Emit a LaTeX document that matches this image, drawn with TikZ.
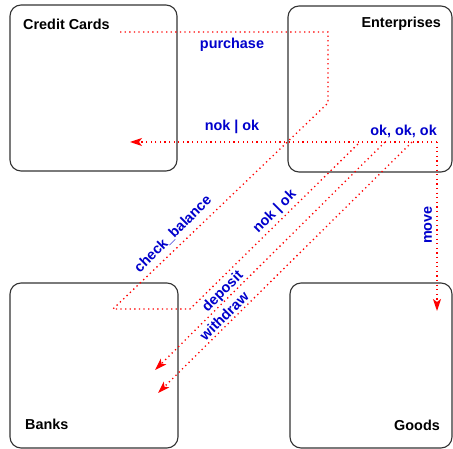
\documentclass[tikz,border=0pt]{standalone}
\usepackage{fontspec}
\setmainfont{Liberation Sans}
\usetikzlibrary{arrows.meta,positioning,calc}
\definecolor{MsgRed}{HTML}{FF0000}
\definecolor{MsgBlue}{HTML}{0000CC}

\begin{document}
\begin{tikzpicture}[
	x=1pt, y=-1pt,
	box/.style={draw=black!80, rounded corners=11pt, line width=1.1pt, inner sep=0pt},
	title/.style={font=\fontsize{14.4}{16}\selectfont\bfseries, inner sep=0pt},
	lbl/.style={title, text=MsgBlue},
	msg/.style={draw=MsgRed, line width=1.3pt, dash pattern=on 1.3pt off 3.3pt},
	arrow/.style={msg, -{Stealth[length=12pt,width=8pt,inset=3pt]}}
]
\useasboundingbox (0,0) rectangle (453,449);

% the four parties
\node[box, minimum width=167pt, minimum height=166pt] (credit) at (93.5,88) {};
\node[box, minimum width=164pt, minimum height=166pt] (enterprise) at (370,89) {};
\node[box, minimum width=168pt, minimum height=165pt] (bank) at (94,365.5) {};
\node[box, minimum width=162pt, minimum height=165pt] (goods) at (371,365.5) {};

\node[title, anchor=west] (creditname) at (23,24) {Credit Cards};
\node[title, anchor=east] (enterprisename) at (441,24) {Enterprises};
\node[title, anchor=west] (bankname) at (25,424) {Banks};
\node[title, anchor=east] (goodsname) at (440,425) {Goods};

% bend points of the messages
\coordinate (buy) at (120,32);
\coordinate (bendA) at (328,32);
\coordinate (bendB) at (328,103);
\coordinate (chk) at (113,309);
\coordinate (bendC) at (190,309);
\coordinate (okA) at (360,142);
\coordinate (okB) at (385,142);
\coordinate (okC) at (412,142);
\coordinate (okR) at (437,142);
\coordinate (ccend) at (130,142);
\coordinate (goodsend) at (437,311);
\coordinate (depend) at (155,370);
\coordinate (widend) at (158,393);

\draw[msg] (buy) -- (bendA) -- (bendB) -- (chk) -- (bendC) -- (okA);
\draw[arrow] (okR) -- (ccend);
\draw[arrow] (okR) -- (goodsend);
\draw[arrow] (okB) -- (depend);
\draw[arrow] (okC) -- (widend);

% message labels
\node[lbl] (purchase) at (232,45) {purchase};
\node[lbl] (answer) at (232,127) {nok | ok};
\node[lbl, anchor=east] (oks) at (437,131) {ok, ok, ok};
\node[lbl, rotate=45] (check) at (173,234) {check\_balance};
\node[lbl, rotate=45] (bankanswer) at (275,212) {nok | ok};
\node[lbl, rotate=45] (deposit) at (223,292) {deposit};
\node[lbl, rotate=45] (withdraw) at (224,316) {withdraw};
\node[lbl, rotate=90] (move) at (428,225) {move};
\end{tikzpicture}
\end{document}
